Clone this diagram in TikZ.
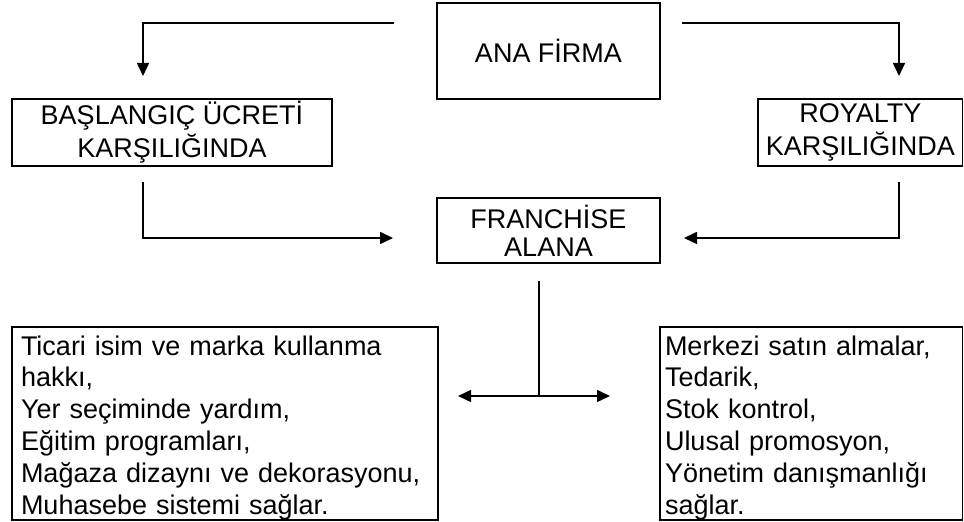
\documentclass[tikz,border=0pt]{standalone}
\usepackage{fontspec}
\setmainfont{Liberation Sans}
\usetikzlibrary{arrows.meta,positioning}
\newcommand{\listtop}{\rule{0pt}{14pt}}
\tikzset{
  box/.style={draw, line width=0.8pt, align=center, inner sep=0pt, font=\fontsize{13.5}{16.5}\selectfont},
  listbox/.style={draw, line width=0.8pt, align=left, inner ysep=0pt, font=\fontsize{13.5}{15.9}\selectfont},
  arr/.style={line width=0.8pt, -{Triangle[length=6.5pt,width=6pt]}},
  ln/.style={line width=0.8pt}
}

\begin{document}
\begin{tikzpicture}[x=0.5pt,y=-0.5pt]
    \useasboundingbox (0,0) rectangle (964,522);

    % Top boxes
    \node[box, minimum width=111.5pt, minimum height=48pt] (ana) at (548.5,51) {ANA FİRMA};
    \node[box, minimum width=160pt, minimum height=33.5pt] (basl) at (172,132.5) {BAŞLANGIÇ ÜCRETİ\\KARŞILIĞINDA};
    \node[box, minimum width=102.2pt, minimum height=33.5pt] (roy) at (860.3,132.5) {ROYALTY\\KARŞILIĞINDA};
    \node[box, minimum width=111.5pt, minimum height=32.5pt, font=\fontsize{13.5}{14.2}\selectfont] (fran) at (548.5,230.5) {FRANCHİSE\\ALANA};

    % Bottom lists
    \node[listbox, inner xsep=4.5pt, text width=204pt, minimum height=95.5pt] (hak) at (225,423.5)
        {\listtop Ticari isim ve marka kullanma\\hakkı,\\Yer seçiminde yardım,\\Eğitim programları,\\Mağaza dizaynı ve dekorasyonu,\\Muhasebe sistemi sağlar.};
    \node[listbox, inner xsep=2.5pt, text width=146.3pt, minimum height=95.5pt] (hiz) at (811.3,423.5)
        {\listtop Merkezi satın almalar,\\Tedarik,\\Stok kontrol,\\Ulusal promosyon,\\Yönetim danışmanlığı\\sağlar.};

    % Free ends of the connectors
    \coordinate (anaL) at (394,23);
    \coordinate (anaR) at (682,23);
    \coordinate (baslT) at (143,76);
    \coordinate (royT) at (899,76);
    \coordinate (baslB) at (143,182);
    \coordinate (royB) at (899,182);
    \coordinate (franL) at (393,238);
    \coordinate (franR) at (684,238);
    \coordinate (franB) at (539,281);
    \coordinate (mid) at (539,396);
    \coordinate (hakR) at (458,396);
    \coordinate (hizL) at (610,396);

    % Connectors
    \draw[arr] (anaL) -| (baslT);
    \draw[arr] (anaR) -| (royT);
    \draw[arr] (baslB) |- (franL);
    \draw[arr] (royB) |- (franR);
    \draw[ln] (franB) -- (mid);
    \draw[arr] (mid) -- (hakR);
    \draw[arr] (mid) -- (hizL);
\end{tikzpicture}
\end{document}
